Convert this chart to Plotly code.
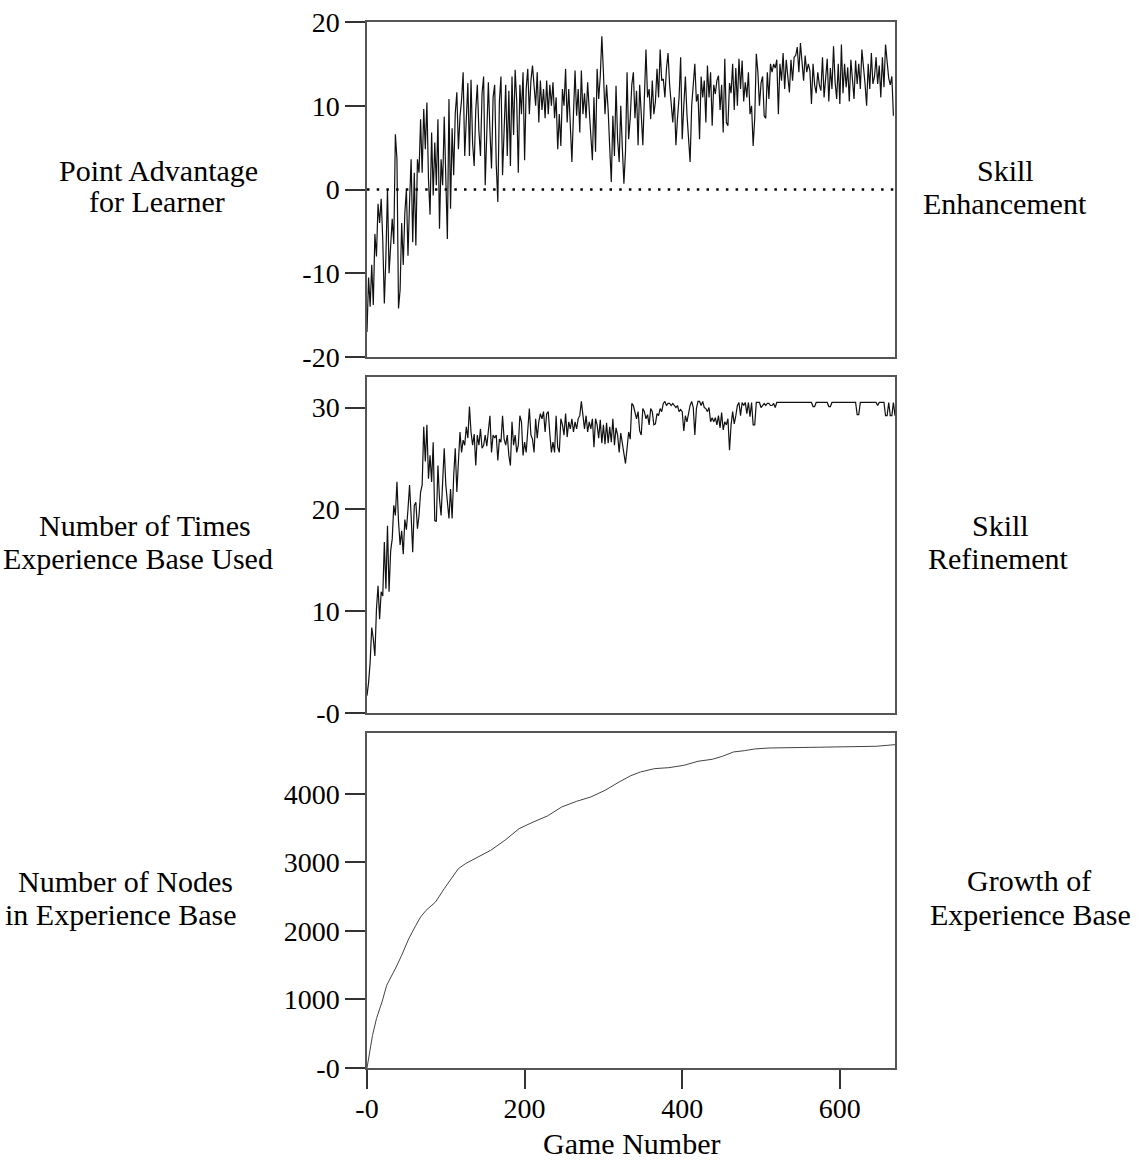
import plotly.graph_objects as go

W, H = 1143, 1160
SERIF = "Liberation Serif"

# ---------------- data ----------------
games_adv = list(range(0, 670, 2))
advantage = [
    -17, -10.5, -14, -9, -13.8, -5.3, -8, -1.7, -4, -1.1,
    -6, -13.6, -8, 0, -10, -6.8, -3.5, -6.5, 6.6, 3.6,
    -14.2, -12, -4, -9, -2.8, 0, -7.9, -1.5, 3.6, -6.3,
    2, -6.7, 3.6, 2, 8.4, 2, 9.6, 4.8, 10.4, 1.3,
    -3, 6.8, -0.7, 5.6, 0.5, 8.4, -4.7, 3.6, 0.5, 8.7,
    -0.7, -5.9, 10.8, -2.3, 7.3, 1.7, 9.1, 11.6, 4.8, 8.7,
    10.7, 14, 4, 8.7, 12.7, 4, 13.1, 5.5, 2.8, 9.5,
    12.5, 7, 4, 11.5, 13.5, 0.5, 8, 12.8, 7, 2.5,
    11, 12.5, 3, -1.5, 10.5, 13.5, 1.7, 8, 12.5, 4,
    11.8, 2.8, 13.5, 6.5, 14.3, 10.5, 2, 12.5, 9, 14,
    3.5, 12, 14.4, 9, 13, 14.8, 12.6, 10, 14, 8,
    13, 9.5, 12, 8.5, 13, 9, 12.5, 10, 12.8, 8.5,
    11, 4.8, 9, 5.2, 12, 10, 14.4, 8, 12, 6.5,
    3.3, 9, 14.2, 8.8, 12, 6.8, 14.2, 9, 11.5, 8.5,
    12.8, 9.5, 7, 3.5, 11, 4.5, 14.4, 10.8, 13.5, 18.3,
    14, 9, 12.5, 9.5, 5, 0.9, 8.8, 4, 12.4, 6,
    3.3, 10, 5, 0.7, 4.5, 14, 6, 8.5, 12.5, 14,
    8.5, 11.8, 5.3, 12.5, 9, 5.3, 11, 16.7, 11, 12,
    8.4, 13, 9, 10.5, 14.4, 11, 16.7, 13, 13.2, 11,
    14.4, 16.3, 12.5, 10, 8, 11, 5.3, 8.5, 11, 15.8,
    6, 10, 13.5, 9, 6, 3.3, 10, 12.5, 15, 10.5,
    11.4, 6, 13.5, 11, 13, 8, 14.8, 11, 14, 7.6,
    12.5, 11.4, 13, 13.6, 9.5, 12.5, 6.8, 15.6, 8, 7.6,
    12.7, 11.5, 15, 9.5, 14.5, 10, 15.6, 12, 15.4, 10.5,
    12.8, 11, 14, 9, 10, 5.2, 8.5, 16.2, 14, 10,
    12.7, 13.5, 8.8, 8.5, 14, 10.8, 15, 14, 15, 14.5,
    15.5, 9, 15, 13, 16.3, 12, 15.5, 13.5, 11.6, 15.5,
    13, 15.8, 16, 17, 14, 17.5, 15, 13, 16, 14,
    15, 14.2, 10.2, 15, 12.5, 11.5, 14, 12.5, 11.8, 15.8,
    11, 13.5, 15.6, 10.5, 14.5, 12, 17.1, 12.8, 10.8, 15,
    10.2, 17.3, 11.5, 15, 12.2, 14.6, 10.5, 15.5, 13, 10.8,
    15.4, 12.6, 15, 12, 16.7, 14, 12.6, 10, 15, 12,
    16.3, 12.6, 13.5, 15.8, 12.6, 14.8, 11, 15.8, 12.2, 17.3,
    15, 13.3, 12.5, 13.5, 8.8,
]

games_used = list(range(0, 672, 2))
times_used = [
    1.7, 3, 5, 8.4, 7.3, 5.6, 10.2, 12.5, 9.2, 11.9,
    11.5, 16.8, 12.2, 18.4, 11.9, 15.9, 17.1, 20.4, 19.4, 22.7,
    18.8, 16.5, 17.9, 15.6, 19, 18, 20, 22.4, 19.4, 15.8,
    20.4, 20.7, 18.1, 19.4, 21.7, 22.4, 28.1, 24.7, 28.3, 23,
    25.3, 22.7, 26.6, 18.9, 18.8, 24.3, 21, 19.4, 22.7, 26,
    22.4, 21, 19.1, 22, 19.1, 23.3, 26, 21.7, 24.3, 27.6,
    25.6, 26.8, 26.3, 28.1, 27, 30.1, 27.6, 26.3, 27.4, 24.3,
    27.3, 26.3, 27.9, 26, 26.3, 27.3, 26.2, 27.6, 29.2, 25.6,
    27.3, 27, 27.3, 24.8, 26.9, 26.6, 29.2, 26.9, 26.3, 27.3,
    25.3, 24.3, 28.6, 26.3, 27.3, 25.6, 26.3, 29.2, 28.6, 25.3,
    26.6, 25.6, 27.8, 29.9, 27.3, 26.9, 25.6, 28.9, 27, 28.6,
    29.4, 28.9, 29.6, 27.6, 29.4, 29.6, 27.4, 25.6, 26.6, 25.6,
    29.2, 26.1, 25.6, 28.9, 28.3, 27.3, 29.4, 27.1, 28.6, 27.9,
    28.9, 27.6, 28.6, 27.9, 28.9, 29.2, 30.6, 29.2, 27.9, 29.2,
    27.6, 28.6, 27.9, 28.9, 26.1, 28.9, 28.3, 27, 28.8, 26.5,
    28.3, 26.4, 28.5, 26.5, 28.1, 26.6, 28.9, 26.3, 28, 27.3,
    25.6, 27.5, 26.5, 25.2, 24.5, 26, 27.6, 26.9, 30.4, 30.2,
    29.6, 28.9, 29.6, 27.7, 27.3, 29.9, 29.6, 28.9, 29.3, 28.3,
    29.9, 29.6, 28.3, 28.4, 29.4, 29.2, 29.9, 29.6, 30.4, 30.6,
    30.2, 30.4, 30.4, 30.2, 30.4, 30.2, 30.0, 30.2, 29.6, 29.8,
    29.6, 27.7, 29.2, 28.6, 29.6, 30.2, 30.6, 30.0, 27.3, 29.9,
    30.6, 30.6, 30.2, 30.6, 30.0, 29.9, 29.6, 30.0, 28.6, 29.0,
    28.6, 29.0, 28.3, 29.2, 28.0, 29.5, 27.8, 28.6, 28.3, 28.9,
    25.8, 28.3, 29.6, 28.4, 29.2, 30.2, 30.5, 29.2, 30.5, 30.2,
    30.5, 29.4, 30.5, 29.1, 30.5, 28.3, 28.3, 30.5, 30.5, 30.5,
    30.0, 30.2, 30.4, 30.2, 30.4, 30.4, 30.2, 30.2, 30.4, 30.0,
    30.5, 30.5, 30.5, 30.5, 30.5, 30.5, 30.5, 30.5, 30.5, 30.5,
    30.5, 30.5, 30.5, 30.5, 30.5, 30.5, 30.5, 30.5, 30.5, 30.5,
    30.5, 30.5, 30.5, 30.1, 30.1, 30.5, 30.5, 30.5, 30.5, 30.5,
    30.5, 30.5, 30.5, 30.1, 30.1, 30.5, 30.5, 30.5, 30.5, 30.5,
    30.5, 30.5, 30.5, 30.5, 30.5, 30.5, 30.5, 30.5, 30.5, 30.5,
    30.5, 29.3, 29.3, 30.5, 30.5, 30.5, 30.5, 30.5, 30.5, 30.5,
    30.5, 30.5, 30.5, 30.5, 30.2, 30.5, 30.5, 30.5, 30.5, 29.2,
    29.2, 30.5, 29.2, 29.2, 30.5, 29.2,
]

growth_games = [0, 7, 12, 19, 25, 32, 37, 44, 53, 62,
                68, 75, 87, 98, 107, 116, 125, 141, 157, 175,
                193, 211, 229, 247, 266, 284, 302, 320, 334, 347,
                365, 383, 402, 420, 438, 451, 465, 479, 492, 510,
                556, 569, 601, 646, 660, 670]
growth_nodes = [0, 477, 720, 963, 1207, 1353, 1474, 1645, 1888, 2083,
                2204, 2302, 2423, 2618, 2764, 2910, 2983, 3080, 3178, 3324,
                3494, 3591, 3679, 3810, 3893, 3956, 4053, 4175, 4263, 4321,
                4370, 4384, 4418, 4477, 4506, 4550, 4613, 4632, 4657, 4671,
                4676, 4686, 4686, 4696, 4710, 4720]

x_ticks = [0, 200, 400, 600]
x_tick_text = ["-0", "200", "400", "600"]
adv_ticks = [-20, -10, 0, 10, 20]
adv_tick_text = ["-20", "-10", "0", "10", "20"]
used_ticks = [0, 10, 20, 30]
used_tick_text = ["-0", "10", "20", "30"]
node_ticks = [0, 1000, 2000, 3000, 4000]
node_tick_text = ["-0", "1000", "2000", "3000", "4000"]

# ---------------- figure ----------------
fig = go.Figure()
line_style = dict(color="#111111", width=1.2)
fig.add_trace(go.Scatter(x=games_adv, y=advantage, mode="lines", line=line_style,
                         xaxis="x", yaxis="y", hoverinfo="skip"))
fig.add_trace(go.Scatter(x=games_used, y=times_used, mode="lines", line=line_style,
                         xaxis="x2", yaxis="y2", hoverinfo="skip"))
fig.add_trace(go.Scatter(x=growth_games, y=growth_nodes, mode="lines",
                         line=dict(color="#444444", width=1),
                         xaxis="x3", yaxis="y3", hoverinfo="skip"))

xdom = [367 / W, 895 / W]
def ydom(top, bottom):
    return [1 - bottom / H, 1 - top / H]

frame = dict(showline=True, mirror=True, linecolor="#555555", linewidth=1.5,
             showgrid=False, zeroline=False, automargin=False)
tickfont = dict(family=SERIF, size=28, color="black")

fig.update_layout(
    width=W, height=H,
    margin=dict(l=0, r=0, t=0, b=0),
    paper_bgcolor="white", plot_bgcolor="white",
    showlegend=False,
    font=dict(family=SERIF, size=28, color="black"),
    xaxis=dict(domain=xdom, anchor="y", range=[0, 670], ticks="", showticklabels=False, **frame),
    xaxis2=dict(domain=xdom, anchor="y2", range=[0, 670], ticks="", showticklabels=False, **frame),
    xaxis3=dict(domain=xdom, anchor="y3", range=[0, 670], ticks="outside", ticklen=19,
                tickwidth=1.5, tickcolor="#333333", ticklabelstandoff=-4,
                tickvals=x_ticks, ticktext=x_tick_text, tickfont=tickfont, **frame),
    yaxis=dict(domain=ydom(22, 357), anchor="x", range=[-20, 20], ticks="outside", ticklen=20,
               tickwidth=1.5, tickcolor="#333333",
               tickvals=adv_ticks, ticktext=adv_tick_text, tickfont=tickfont, **frame),
    yaxis2=dict(domain=ydom(377, 713), anchor="x2", range=[0, 33], ticks="outside", ticklen=20,
                tickwidth=1.5, tickcolor="#333333",
                tickvals=used_ticks, ticktext=used_tick_text, tickfont=tickfont, **frame),
    yaxis3=dict(domain=ydom(733, 1068), anchor="x3", range=[0, 4890], ticks="outside", ticklen=20,
                tickwidth=1.5, tickcolor="#333333",
                tickvals=node_ticks, ticktext=node_tick_text, tickfont=tickfont, **frame),
)

# dotted zero reference line in the top panel
fig.add_shape(type="line", xref="x", yref="y", x0=0, x1=670, y0=0, y1=0,
              line=dict(color="black", width=2.5, dash="2.5px,7.2px"))

labels = [
    ("Point Advantage", 158, 170), ("for Learner", 157, 202),
    ("Number of Times", 145, 525), ("Experience Base Used", 138, 558),
    ("Number of Nodes", 125, 881), ("in Experience Base", 121, 914),
    ("Skill", 1005, 170), ("Enhancement", 1005, 203),
    ("Skill", 1000, 525), ("Refinement", 998, 558),
    ("Growth of", 1029, 880), ("Experience Base", 1030, 914),
    ("Game Number", 631, 1143),
]
for text, px, py in labels:
    fig.add_annotation(text=text, x=px / W, y=1 - py / H, xref="paper", yref="paper",
                       xanchor="center", yanchor="middle", showarrow=False,
                       font=dict(family=SERIF, size=30, color="black"))

fig.write_html("out.html", config={"displayModeBar": False},
               post_script="document.body.style.margin='0';")
